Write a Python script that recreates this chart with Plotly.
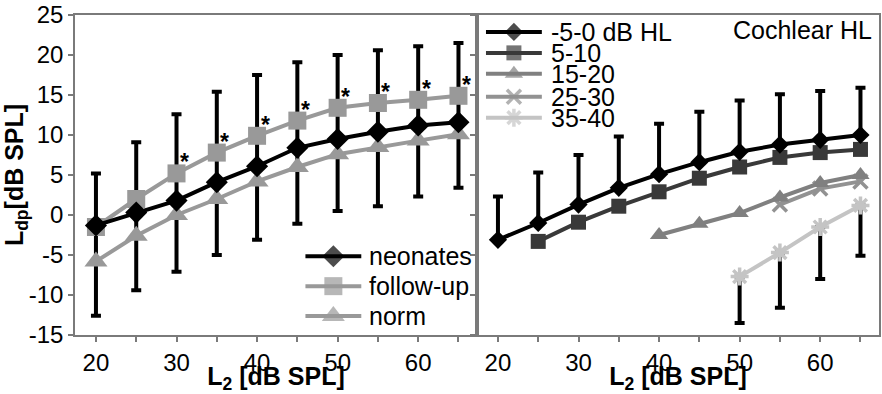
import plotly.graph_objects as go

# ---------------- data ----------------
L2 = [20, 25, 30, 35, 40, 45, 50, 55, 60, 65]

# left panel: group means of Ldp
neonates = [-1.3, 0.3, 1.8, 4.1, 6.1, 8.4, 9.5, 10.4, 11.2, 11.6]
follow_up = [-1.5, 2.0, 5.2, 7.8, 9.9, 11.8, 13.4, 14.0, 14.4, 14.9]
norm = [-5.8, -2.6, 0.0, 2.0, 4.2, 6.0, 7.6, 8.5, 9.3, 10.1]
# spread shown as whiskers (upper / lower end)
whisker_top_left = [5.2, 9.1, 12.6, 15.4, 17.5, 19.1, 20.0, 20.6, 21.1, 21.5]
whisker_bottom_left = [-12.6, -9.4, -7.1, -5.0, -3.1, -1.1, 0.5, 1.1, 2.3, 3.4]
# significance marks next to the follow-up curve
significant = [False, False, True, True, True, True, True, True, True, True]

# right panel: cochlear hearing loss groups
hl_0_L2 = [20, 25, 30, 35, 40, 45, 50, 55, 60, 65]
hl_0 = [-3.1, -1.0, 1.3, 3.4, 5.1, 6.6, 7.9, 8.8, 9.4, 10.0]
hl_0_top = [2.3, 5.3, 7.5, 9.8, 11.4, 12.9, 14.3, 15.1, 15.5, 15.9]

hl_5_L2 = [25, 30, 35, 40, 45, 50, 55, 60, 65]
hl_5 = [-3.3, -0.9, 1.1, 2.9, 4.6, 6.0, 7.2, 7.8, 8.2]

hl_15_L2 = [40, 45, 50, 55, 60, 65]
hl_15 = [-2.5, -1.1, 0.25, 2.2, 4.0, 5.0]

hl_25_L2 = [55, 60, 65]
hl_25 = [1.3, 3.3, 4.2]

hl_35_L2 = [50, 55, 60, 65]
hl_35 = [-7.7, -4.7, -1.5, 1.2]
hl_35_bottom = [-13.5, -11.6, -8.0, -5.1]

x_ticks = [20, 30, 40, 50, 60]
y_ticks = [-15, -10, -5, 0, 5, 10, 15, 20, 25]
y_tick_text = ["-15", "-10", "-5", "0", "5", "10", "15", "20", "25"]

# ---------------- styling ----------------
FONT = "Liberation Sans, Arial, sans-serif"
AXIS_GREY = "#7a7a7a"
W, H = 882, 394
M_L, M_R, M_T, M_B = 75, 1, 15, 58

STYLE = {
    "neonates": dict(color="black", symbol="diamond", size=17, mline=0),
    "follow-up": dict(color="#999999", symbol="square", size=18, mline=0),
    "norm": dict(color="#999999", symbol="triangle-up", size=20, mline=0),
    "-5-0 dB HL": dict(color="black", symbol="diamond", size=14, mline=0),
    "5-10": dict(color="#393939", symbol="square", size=15, mline=0),
    "15-20": dict(color="#808080", symbol="triangle-up", size=16, mline=0),
    "25-30": dict(color="#929292", symbol="x-thin-open", size=14, mline=3.5),
    "35-40": dict(color="#c4c4c4", symbol="asterisk-open", size=15, mline=3.5),
}
LINE_W = 4

# key boxes (in page pixels): sample line start/end, label start, row centres
KEYS = [
    dict(x0=306, x1=362, tx=368, rows=[257, 287, 317],
         names=["neonates", "follow-up", "norm"]),
    dict(x0=487, x1=543, tx=550, rows=[32, 53, 74, 97, 118],
         names=["-5-0 dB HL", "5-10", "15-20", "25-30", "35-40"]),
]

fig = go.Figure()


def whiskers(x, y, plus, minus, xaxis, yaxis):
    fig.add_trace(go.Scatter(
        x=x, y=y, mode="markers", xaxis=xaxis, yaxis=yaxis,
        marker=dict(size=1, opacity=0), showlegend=False, hoverinfo="skip",
        error_y=dict(type="data", symmetric=False, array=plus, arrayminus=minus,
                     color="black", thickness=4, width=5),
    ))


def series(x, y, name, xaxis, yaxis, sizes=None):
    st = STYLE[name]
    fig.add_trace(go.Scatter(
        x=x, y=y, name=name, mode="lines+markers", xaxis=xaxis, yaxis=yaxis,
        line=dict(color=st["color"], width=LINE_W),
        marker=dict(color=st["color"], symbol=st["symbol"],
                    size=sizes if sizes is not None else st["size"],
                    line=dict(color=st["color"], width=st["mline"])),
        showlegend=False,
    ))


# whiskers first so markers sit on top of them
whiskers(L2, neonates,
         [t - m for t, m in zip(whisker_top_left, neonates)],
         [m - b for b, m in zip(whisker_bottom_left, neonates)], "x", "y")
whiskers(hl_0_L2, hl_0,
         [t - m for t, m in zip(hl_0_top, hl_0)], [0] * len(hl_0), "x2", "y2")
whiskers(hl_35_L2, hl_35,
         [0] * len(hl_35), [m - b for b, m in zip(hl_35_bottom, hl_35)], "x2", "y2")

# left panel curves
series(L2, norm, "norm", "x", "y")
series(L2, follow_up, "follow-up", "x", "y")
series(L2, neonates, "neonates", "x", "y")

# right panel curves
series(hl_35_L2, hl_35, "35-40", "x2", "y2")
series(hl_25_L2, hl_25, "25-30", "x2", "y2")
series(hl_15_L2, hl_15, "15-20", "x2", "y2")
series(hl_5_L2, hl_5, "5-10", "x2", "y2")
series(hl_0_L2, hl_0, "-5-0 dB HL", "x2", "y2")

annotations = []

# key samples on a full-page overlay axis measured in pixels
for key in KEYS:
    for name, row in zip(key["names"], key["rows"]):
        xc = (key["x0"] + key["x1"]) / 2
        series([key["x0"], xc, key["x1"]], [row, row, row], name, "x3", "y3",
               sizes=[0, STYLE[name]["size"], 0])
        annotations.append(dict(
            x=key["tx"], y=row, xref="x3", yref="y3", text=name,
            showarrow=False, xanchor="left", yanchor="middle",
            font=dict(size=25, family=FONT, color="black"),
        ))

# asterisks beside the follow-up points
for x, y, s in zip(L2, follow_up, significant):
    if s:
        annotations.append(dict(
            x=x, y=y, xref="x", yref="y", text="<b>*</b>", showarrow=False,
            xshift=8, yshift=11, font=dict(size=23, color="black", family=FONT),
        ))

annotations.append(dict(
    x=1, y=0.953, xref="paper", yref="paper", text="Cochlear HL",
    showarrow=False, xanchor="right", yanchor="middle", xshift=-5,
    font=dict(size=25, color="black", family=FONT),
))

x_common = dict(
    range=[17.4, 67.3], tickvals=x_ticks, ticks="outside", ticklen=5,
    tickwidth=1.5, tickcolor=AXIS_GREY, showline=True, linecolor=AXIS_GREY,
    linewidth=1.5, mirror=True, showgrid=False, zeroline=False,
    tickfont=dict(size=24, family=FONT, color="black"),
    minor=dict(dtick=5, ticks="outside", ticklen=5, tickwidth=1.5,
               tickcolor=AXIS_GREY, showgrid=False),
    title=dict(text="<b>L<sub>2</sub> [dB SPL]</b>", standoff=0,
               font=dict(size=25, family=FONT, color="black")),
)
y_common = dict(
    range=[-15, 25], tickvals=y_ticks, ticktext=y_tick_text, ticks="outside",
    ticklen=5, tickwidth=1.5, tickcolor=AXIS_GREY, showline=True,
    linecolor=AXIS_GREY, linewidth=1.5, mirror=True, showgrid=False,
    zeroline=False, tickfont=dict(size=24, family=FONT, color="black"),
)

fig.update_layout(
    width=W, height=H,
    margin=dict(l=M_L, r=M_R, t=M_T, b=M_B),
    # transparent plot area so the overlay axis for the keys hides nothing
    paper_bgcolor="white", plot_bgcolor="rgba(0,0,0,0)",
    font=dict(family=FONT, color="black"),
    xaxis=dict(domain=[0, 0.5], anchor="y", **x_common),
    yaxis=dict(domain=[0, 1], anchor="x", **y_common,
               title=dict(text="<b>L<sub>dp</sub>[dB SPL]</b>", standoff=0,
                          font=dict(size=25, family=FONT, color="black"))),
    xaxis2=dict(domain=[0.5, 1], anchor="y2", **x_common),
    yaxis2=dict(domain=[0, 1], anchor="x2", showticklabels=False, **y_common),
    xaxis3=dict(domain=[0, 1], anchor="y3", range=[M_L, W - M_R], visible=False),
    yaxis3=dict(domain=[0, 1], anchor="x3", range=[H - M_B, M_T], visible=False),
    annotations=annotations,
    showlegend=False,
)

fig.write_html("out.html")
